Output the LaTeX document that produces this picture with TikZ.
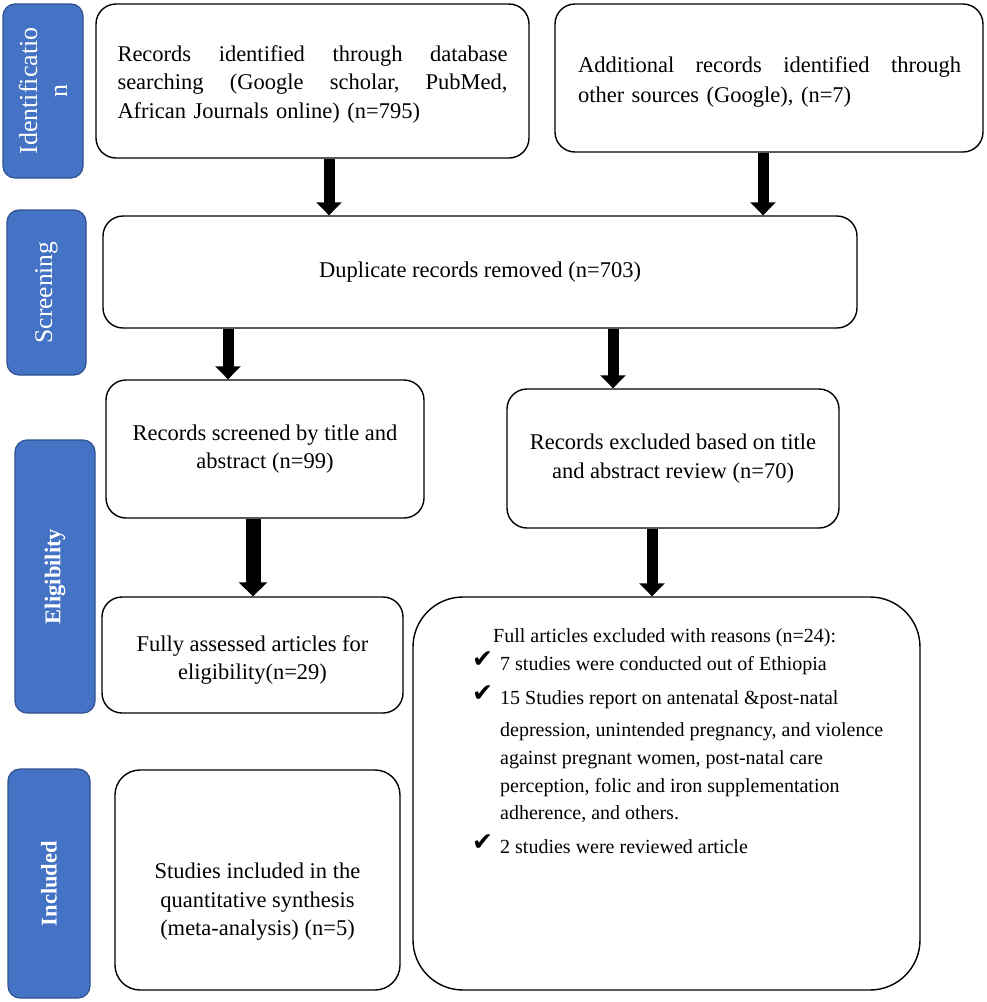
\documentclass[tikz,border=0pt]{standalone}
\usepackage{fontspec}
\setmainfont{Liberation Serif}
\newfontfamily\dejavu{DejaVu Sans}
\usetikzlibrary{arrows.meta}
\definecolor{labblue}{HTML}{4472C4}
\definecolor{labedge}{HTML}{2F528F}
\newcommand{\chk}{\makebox[28pt][l]{\raisebox{3pt}{\dejavu\fontsize{25}{25}\selectfont ✔}}}
\begin{document}
\begin{tikzpicture}[x=1pt,y=-1pt,
  box/.style={draw=black, line width=1.4pt, rounded corners=20pt, inner sep=0pt, align=center,
    font=\fontsize{22.5}{28.5}\selectfont},
  boxtext/.style={inner sep=0pt, align=center, font=\fontsize{22.5}{28.5}\selectfont},
  lab/.style={draw=labedge, fill=labblue, line width=1.2pt, rounded corners=12pt, inner sep=0pt,
    text=white, rotate=90, align=center},
  arr/.style={line width=11pt, -{Triangle[width=25pt,length=13pt]}},
  listline/.style={anchor=base west, inner sep=0pt, font=\fontsize{20}{24}\selectfont}
]
\useasboundingbox (0,0) rectangle (986,1002);

% side labels
\node[lab, minimum width=174pt, minimum height=80pt, font=\fontsize{26}{30}\selectfont] (l1) at (43,91) {Identificatio\\n};
\node[lab, minimum width=165pt, minimum height=79pt, font=\fontsize{25.5}{30}\selectfont] (l2) at (46.5,292.5) {Screening};
\node[lab, minimum width=273pt, minimum height=80pt, font=\bfseries\fontsize{22.5}{26}\selectfont] (l3) at (55,576.5) {Eligibility};
\node[lab, minimum width=229pt, minimum height=82pt, font=\bfseries\fontsize{22.5}{26}\selectfont] (l4) at (49,883.5) {Included};

% boxes
\node[box, minimum width=433pt, minimum height=154pt] (b1) at (312.5,81) {};
\node[boxtext, text width=390pt, align=left] (t1) at (312.5,84)
  {Records\hfill identified\hfill through\hfill database\\
   searching\hfill (Google\hfill scholar,\hfill PubMed,\\
   African Journals online) (n=795)};
\node[box, minimum width=428pt, minimum height=148pt] (b2) at (769,78) {};
\node[boxtext, text width=383pt, align=left, font=\fontsize{22.5}{30}\selectfont] (t2) at (769.5,82)
  {Additional\hfill records\hfill identified\hfill through\\
   other sources (Google), (n=7)};
\node[box, minimum width=754pt, minimum height=112pt] (dup) at (480,272) {Duplicate records removed (n=703)};
\node[box, minimum width=318pt, minimum height=138pt] (scr) at (265,449) {Records screened by title and\\abstract (n=99)};
\node[box, minimum width=332pt, minimum height=139pt] (exc) at (673,458.5) {Records excluded based on title\\and abstract review (n=70)};
\node[box, minimum width=301pt, minimum height=116pt] (full) at (252.5,655) {};
\node[boxtext] (t3) at (252.5,660) {Fully assessed articles for\\eligibility(n=29)};
\node[box, minimum width=507pt, minimum height=393pt, rounded corners=50pt] (fex) at (666.5,793.5) {};
\node[box, minimum width=285pt, minimum height=220pt, rounded corners=25pt] (inc) at (257.5,880) {};
\node[boxtext] (t4) at (257.5,902) {Studies included in the\\quantitative synthesis\\(meta-analysis) (n=5)};

% list inside excluded box
\node[listline] (f1) at (493,642) {Full articles excluded with reasons (n=24):};
\node[listline] (f2) at (472,670) {\chk 7 studies were conducted out of Ethiopia};
\node[listline] (f3) at (472,704) {\chk 15 Studies report on antenatal \&post-natal};
\node[listline] (f4) at (500,736) {depression, unintended pregnancy, and violence};
\node[listline] (f5) at (500,764) {against pregnant women, post-natal care};
\node[listline] (f6) at (500,792) {perception, folic and iron supplementation};
\node[listline] (f7) at (500,819) {adherence, and others.};
\node[listline] (f8) at (472,853) {\chk 2 studies were reviewed article};

% arrows
\coordinate (c1) at (329,0);
\coordinate (c2) at (763,0);
\coordinate (c3) at (228,0);
\coordinate (c4) at (613,0);
\coordinate (c5) at (253,0);
\coordinate (c6) at (652,0);
\draw[arr] (b1.south -| c1) -- (dup.north -| c1);
\draw[arr] (b2.south -| c2) -- (dup.north -| c2);
\draw[arr] (dup.south -| c3) -- (scr.north -| c3);
\draw[arr] (dup.south -| c4) -- (exc.north -| c4);
\draw[arr, line width=15pt, -{Triangle[width=28pt,length=14pt]}] (scr.south -| c5) -- (full.north -| c5);
\draw[arr] (exc.south -| c6) -- (fex.north -| c6);
\end{tikzpicture}
\end{document}
